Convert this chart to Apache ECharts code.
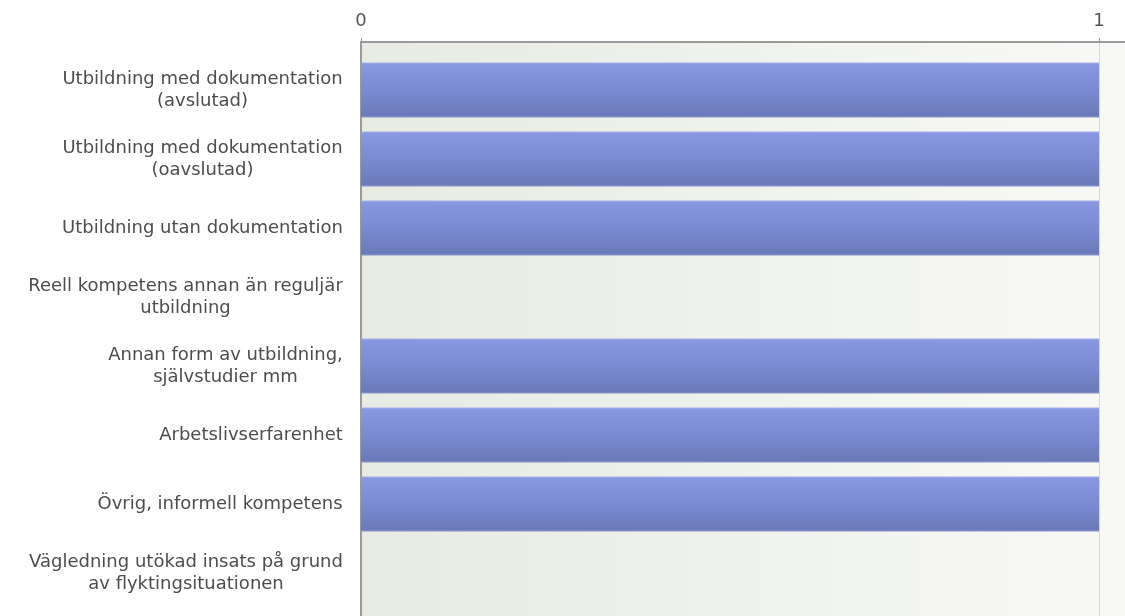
<!DOCTYPE html>
<html>
<head>
<meta charset="utf-8">
<script src="https://cdn.jsdelivr.net/npm/echarts@6/dist/echarts.min.js"></script>
<style>
html,body{margin:0;padding:0;background:#fff;}
#chart{width:1125px;height:616px;}
</style>
</head>
<body>
<div id="chart"></div>
<script>
const categories = [
  "Utbildning med dokumentation\n(avslutad)",
  "Utbildning med dokumentation\n(oavslutad)",
  "Utbildning utan dokumentation",
  "Reell kompetens annan än reguljär\nutbildning",
  "Annan form av utbildning,\nsjälvstudier mm",
  "Arbetslivserfarenhet",
  "Övrig, informell kompetens",
  "Vägledning utökad insats på grund\nav flyktingsituationen"
];
const values = [1, 1, 1, 0, 1, 1, 1, 0];
const tickLabels = [0, 1];

const FONT = 'DejaVu Sans';
const FS = 18;
const XMAX = 1.0352;

const cv = document.createElement('canvas').getContext('2d');
cv.font = FS + 'px "' + FONT + '"';
const rich = {};
categories.forEach((c, i) => {
  const w = Math.max(...c.split('\n').map(l => cv.measureText(l).width));
  rich['c' + i] = {width: Math.ceil(w), align: 'center', fontSize: FS, fontFamily: FONT, color: '#4d4d4d', lineHeight: 22};
});

const chart = echarts.init(document.getElementById('chart'));
chart.setOption({
  animation: false,
  grid: [
    {left: 361, right: 0, top: 42, bottom: 0, show: true, borderWidth: 0, outerBoundsMode: 'none', containLabel: false,
     backgroundColor: new echarts.graphic.LinearGradient(0, 0, 1, 0, [
       {offset: 0, color: '#e7ebe3'}, {offset: 1, color: '#f8f9f6'}])},
    {left: 361, right: 0, top: 55.5, height: 552, outerBoundsMode: 'none', containLabel: false}
  ],
  xAxis: [
    {type: 'value', gridIndex: 0, position: 'top', min: 0, max: XMAX, interval: 1,
     axisLine: {show: true, onZero: false, lineStyle: {color: '#9a9a9a', width: 2}},
     axisTick: {show: true, length: 4, lineStyle: {color: '#9a9a9a'}},
     axisLabel: {show: true, margin: 12, fontSize: 18, fontFamily: FONT, color: '#555',
       formatter: v => tickLabels.indexOf(v) >= 0 ? String(v) : ''},
     splitLine: {show: true, lineStyle: {color: '#d6dad3', width: 1}}},
    {type: 'value', gridIndex: 1, min: 0, max: XMAX, show: false}
  ],
  yAxis: [
    {type: 'value', gridIndex: 0, min: 0, max: 1,
     axisLine: {show: true, onZero: false, lineStyle: {color: '#9a9a9a', width: 2}},
     axisTick: {show: false}, axisLabel: {show: false}, splitLine: {show: false}},
    {type: 'category', gridIndex: 1, data: categories, inverse: true,
     axisLine: {show: false}, axisTick: {show: false},
     axisLabel: {margin: 18, formatter: (v, i) => v.split('\n').map(l => '{c' + i + '|' + l + '}').join('\n'), rich: rich}}
  ],
  series: [{
    type: 'bar', xAxisIndex: 1, yAxisIndex: 1, data: values, barWidth: 55,
    itemStyle: {color: new echarts.graphic.LinearGradient(0, 0, 0, 1, [
      {offset: 0, color: '#a3aeea'}, {offset: 0.04, color: '#8797e0'},
      {offset: 0.5, color: '#7b8bd2'}, {offset: 0.96, color: '#6a79b9'}, {offset: 1, color: '#8a96c8'}])}
  }]
});
</script>
</body>
</html>
